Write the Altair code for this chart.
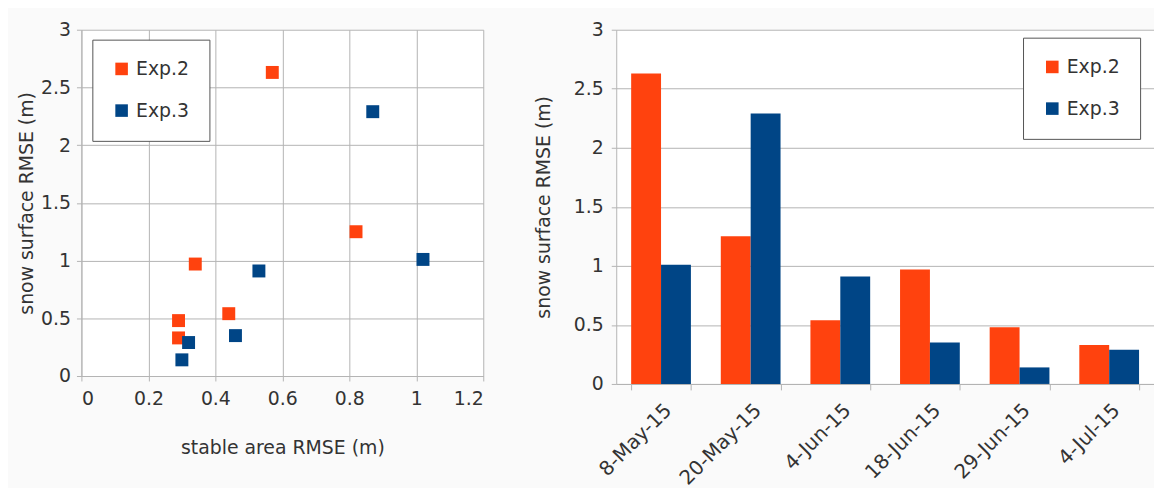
import altair as alt
import pandas as pd

dates = ["8-May-15", "20-May-15", "4-Jun-15", "18-Jun-15", "29-Jun-15", "4-Jul-15"]
series = ["Exp.2", "Exp.3"]
exp2_snow = [2.63, 1.25, 0.54, 0.97, 0.48, 0.33]
exp3_snow = [1.01, 2.29, 0.91, 0.35, 0.14, 0.29]
exp2_stable = [0.57, 0.82, 0.44, 0.34, 0.29, 0.29]
exp3_stable = [1.02, 0.87, 0.53, 0.46, 0.30, 0.32]
x_ticks = [0, 0.2, 0.4, 0.6, 0.8, 1.0, 1.2]
y_ticks = [0, 0.5, 1.0, 1.5, 2.0, 2.5, 3.0]
colors = ["#ff420e", "#004586"]

rows = []
for i, d in enumerate(dates):
    rows.append({"date": d, "series": "Exp.2", "snow": exp2_snow[i], "stable": exp2_stable[i]})
    rows.append({"date": d, "series": "Exp.3", "snow": exp3_snow[i], "stable": exp3_stable[i]})
df = pd.DataFrame(rows)

FONT = "DejaVu Sans"
GRID = "#b3b3b3"
TXT = "#333333"

def yaxis(pad_label, pad_title):
    return alt.Axis(values=y_ticks, format=".2~f", title="snow surface RMSE (m)",
                    grid=True, gridColor=GRID, domainColor=GRID, tickColor=GRID,
                    tickSize=5, labelPadding=pad_label, titlePadding=pad_title,
                    labelFontSize=19, titleFontSize=19, labelFont=FONT, titleFont=FONT,
                    labelColor=TXT, titleColor=TXT, titleFontWeight="normal")

def legend(x, y):
    return alt.Legend(title=None, orient="none", legendX=x, legendY=y,
                      symbolType="square", symbolSize=160, symbolStrokeWidth=0,
                      labelFontSize=19, labelFont=FONT, labelColor=TXT,
                      strokeColor="#555555", fillColor="white", padding=20,
                      rowPadding=22, labelOffset=5)

scatter = alt.Chart(df).mark_square(size=170, opacity=1).encode(
    x=alt.X("stable:Q", scale=alt.Scale(domain=[0, 1.2], nice=False),
            axis=alt.Axis(values=x_ticks, format=".2~f", title="stable area RMSE (m)",
                          grid=True, gridColor=GRID, domainColor=GRID, tickColor=GRID,
                          tickSize=5, labelPadding=9, titlePadding=30,
                          labelFontSize=19, titleFontSize=19, labelFont=FONT, titleFont=FONT,
                          labelColor=TXT, titleColor=TXT, titleFontWeight="normal")),
    y=alt.Y("snow:Q", scale=alt.Scale(domain=[0, 3], nice=False), axis=yaxis(6, 4)),
    color=alt.Color("series:N", scale=alt.Scale(domain=series, range=colors),
                    legend=legend(11, 10)),
).properties(width=405, height=349)

bars = alt.Chart(df).mark_bar().encode(
    x=alt.X("date:N", sort=dates, scale=alt.Scale(paddingInner=1/3, paddingOuter=1/6),
            axis=alt.Axis(title=None, labelAngle=-45, tickBand="extent", grid=False,
                          domainColor=GRID, tickColor=GRID, tickSize=6, labelPadding=10,
                          labelFontSize=20, labelFont=FONT, labelColor=TXT)),
    xOffset=alt.XOffset("series:N", sort=series, scale=alt.Scale(paddingInner=0, paddingOuter=0)),
    y=alt.Y("snow:Q", scale=alt.Scale(domain=[0, 3], nice=False), axis=yaxis(8, 20)),
    color=alt.Color("series:N", scale=alt.Scale(domain=series, range=colors),
                    legend=legend(410, 8)),
).properties(width=542, height=357)

chart = alt.hconcat(scatter, bars, spacing=50).resolve_scale(color="independent").properties(
    padding={"left": 9, "top": 11, "right": 0, "bottom": 0},
    background="#fafafa",
).configure_view(fill="white", stroke=None)

chart.save("out.html", embed_options={"renderer": "svg", "actions": False})
